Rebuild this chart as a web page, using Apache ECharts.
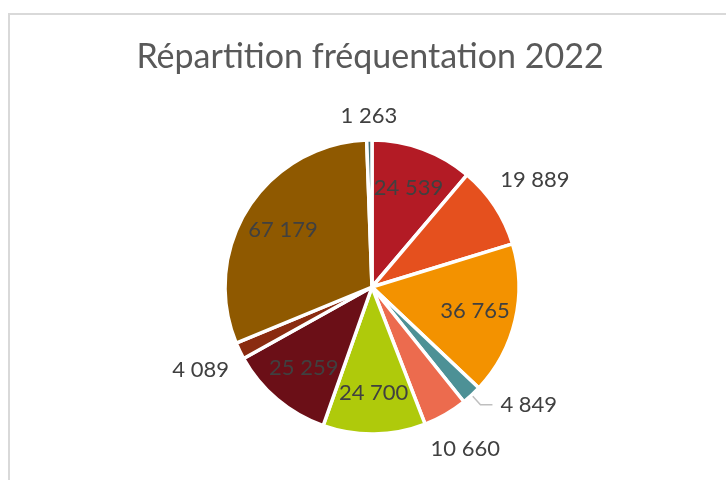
<!DOCTYPE html>
<html>
<head>
<meta charset="utf-8">
<script src="https://cdn.jsdelivr.net/npm/echarts@6/dist/echarts.min.js"></script>
<style>
  html, body { margin: 0; padding: 0; background: #fff; overflow: hidden; }
  #chart { position: absolute; left: 0; top: 0; width: 740px; height: 480px; }
</style>
</head>
<body>
<div id="chart"></div>
<script>
// fréquentation 2022, dans l'ordre des parts (sens horaire depuis midi)
var values = [24539, 19889, 36765, 4849, 10660, 24700, 25259, 4089, 67179, 1263];
var sliceColors = ['#b31b25', '#e5501e', '#f39200', '#4d9196', '#ec6b4e', '#afca0b', '#6b0f17', '#8a2b10', '#8f5900', '#3f6e78'];
var leaderIdx = [3]; // étiquette avec trait de rappel

var total = values.reduce(function (a, b) { return a + b; }, 0);
var cx = 372, cy = 287, R = 147;

function fmt(v) {
  return String(v).replace(/\B(?=(\d{3})+(?!\d))/g, ' ');
}

var myChart = echarts.init(document.getElementById('chart'));

var option = {
  animation: false,
  title: {
    text: 'Répartition fréquentation 2022',
    left: 'center',
    top: 35,
    textStyle: { fontFamily: 'Lato', fontSize: 34, fontWeight: 'normal', color: '#595959' }
  },
  graphic: [{
    type: 'rect',
    silent: true,
    z: -1,
    shape: { x: 9, y: 14, width: 800, height: 600 },
    style: { fill: 'none', stroke: '#d9d9d9', lineWidth: 2 }
  }],
  series: [{
    type: 'pie',
    center: [cx, cy],
    radius: R,
    startAngle: 90,
    clockwise: true,
    avoidLabelOverlap: false,
    emphasis: { disabled: true },
    itemStyle: { borderColor: '#fff', borderWidth: 3.5 },
    label: {
      show: true,
      position: 'outside',
      formatter: function (p) { return fmt(p.value); },
      fontFamily: 'Lato',
      fontSize: 22,
      color: '#404040',
      distanceToLabelLine: 8
    },
    labelLine: {
      show: true,
      length: 13,
      length2: 12,
      lineStyle: { color: '#bfbfbf', width: 1.5 }
    },
    // place les étiquettes : dedans pour les grosses parts, juste dehors sinon
    labelLayout: function (p) {
      var i = p.dataIndex;
      if (leaderIdx.indexOf(i) >= 0 || !p.labelLinePoints) return {};
      var p0 = p.labelLinePoints[0];
      var dx = (p0[0] - cx) / R, dy = (p0[1] - cy) / R;
      var d;
      if (values[i] / total > 0.1) {
        d = R * 0.72;
      } else {
        d = R + 13 + Math.abs(dx) * p.labelRect.width / 2 + Math.abs(dy) * p.labelRect.height / 2;
      }
      return { x: cx + dx * d, y: cy + dy * d, align: 'center', verticalAlign: 'middle' };
    },
    data: values.map(function (v, i) {
      var lead = leaderIdx.indexOf(i) >= 0;
      return {
        value: v,
        itemStyle: { color: sliceColors[i] },
        labelLine: lead ? {} : { lineStyle: { opacity: 0 } }
      };
    })
  }]
};

myChart.setOption(option);
</script>
</body>
</html>
